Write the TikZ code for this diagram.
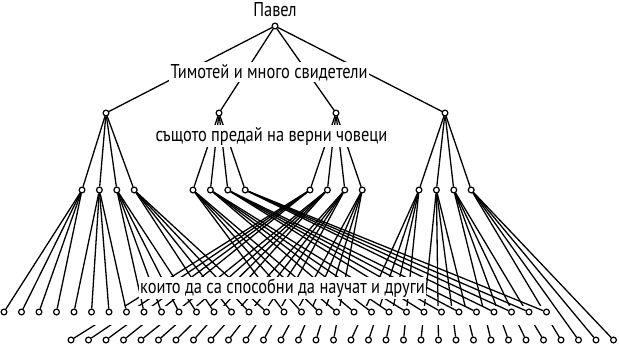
\documentclass[tikz,border=0pt]{standalone}
\usepackage{fontspec}
\setmainfont{PT Sans}[FakeStretch=0.82]
\pgfdeclarelayer{back}
\pgfdeclarelayer{mask}
\pgfsetlayers{back,mask,main}
\begin{document}
\begin{tikzpicture}[x=1pt, y=-1pt,
        edge/.style={line width=1.3pt},
        dot/.style={circle, draw, fill=white, inner sep=0pt, minimum size=5.8pt, line width=1.2pt},
        lbl/.style={fill=white, inner sep=1.5pt, anchor=base, font=\fontsize{20}{20}\selectfont}]
    \useasboundingbox (0,0) rectangle (619,345);
    \node[dot] (p) at (275,26) {};
    \foreach \i/\x in {0/106, 1/219, 2/336, 3/445}
        \node[dot] (t\i) at (\x,113) {};
    \foreach \g/\x in {0/82, 1/193, 2/310, 3/419}
        \foreach \j in {0,...,3}
            \node[dot] (v\g\j) at ({\x+17.4*\j},190) {};
    \foreach \k in {0,...,31}
        \node[dot] (a\k) at ({4+17.5*\k},312) {};
    \foreach \k in {4,...,35}
        \node[dot] (b\k) at ({71+17.5*(\k-4)},340) {};
    \foreach \i in {0,...,3} {
        \draw[edge] (p) -- (t\i);
        \foreach \j in {0,...,3}
            \draw[edge] (t\i) -- (v\i\j);
    };
    % outer left and inner left groups end in the upper row
    \foreach \j in {0,...,3}
        \foreach \m in {0,...,3} {
            \pgfmathtruncatemacro\k{4*\j+\m}
            \draw[edge] (v0\j) -- (a\k);
            \pgfmathtruncatemacro\k{16+4*\j+\m}
            \draw[edge] (v1\j) -- (a\k);
        };
    % the other two groups end in the lower row, cut where they pass the upper row
    \begin{pgfonlayer}{back}
    \foreach \j in {0,...,3}
        \foreach \m in {0,...,3} {
            \pgfmathtruncatemacro\k{4+4*\j+\m}
            \draw[edge] (v2\j) -- (b\k);
            \pgfmathtruncatemacro\k{20+4*\j+\m}
            \draw[edge] (v3\j) -- (b\k);
        };
    \end{pgfonlayer}
    \begin{pgfonlayer}{mask}
    \fill[white] (-1,306) rectangle (553,325);
    \end{pgfonlayer}
    \node[lbl] (l0) at (275,17) {Павел};
    \node[lbl] (l1) at (269,78) {Тимотей и много свидетели};
    \node[lbl] (l2) at (271.5,141) {същото предай на верни човеци};
    \node[lbl] (l3) at (282.5,293) {които да са способни да научат и други};
\end{tikzpicture}
\end{document}
